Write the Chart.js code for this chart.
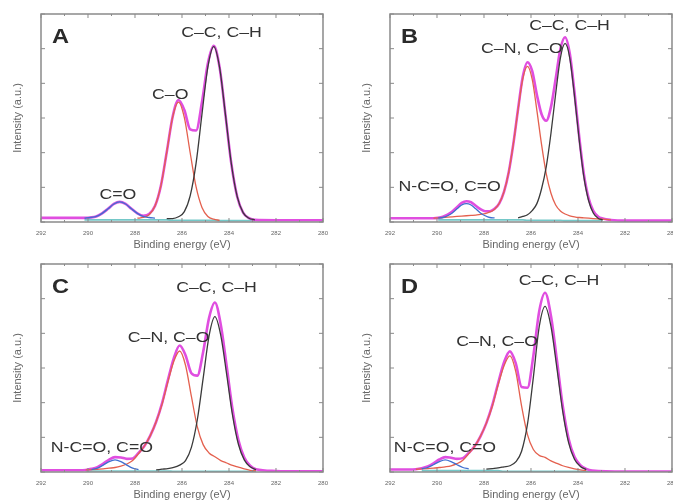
<!DOCTYPE html>
<html>
<head>
<meta charset="utf-8">
<script src="https://cdn.jsdelivr.net/npm/chart.js@4.4.0/dist/chart.umd.min.js"></script>
<style>
  body { margin: 0; width: 673px; height: 502px; overflow: hidden; background: #fff; position: relative; }
  .panel { position: absolute; width: 336px; height: 252px; }
</style>
</head>
<body>
<div class="panel" style="left:0;top:0"><canvas id="chartA" width="336" height="252"></canvas></div>
<div class="panel" style="left:349px;top:0"><canvas id="chartB" width="336" height="252"></canvas></div>
<div class="panel" style="left:0;top:250px"><canvas id="chartC" width="336" height="252"></canvas></div>
<div class="panel" style="left:349px;top:250px"><canvas id="chartD" width="336" height="252"></canvas></div>
<script>
// C 1s spectra, binding energy (eV) vs intensity (a.u.)
var energyTicks = [292, 290, 288, 286, 284, 282, 280];

// panel A
var energyA = [292, 291, 290.15, 289.9, 289.65, 289.4, 289.15, 288.9, 288.65, 288.4, 288.15, 287.9, 287.65, 287.4, 287.15, 286.9, 286.65, 286.4, 286.15, 285.9, 285.65, 285.4, 285.15, 284.9, 284.65, 284.4, 284.15, 283.9, 283.65, 283.4, 283.15, 282.9, 282, 281, 280];
var envelopeA = [.12, .12, .12, .13, .16, .25, .38, .52, .58, .52, .38, .25, .18, .23, .46, 1.04, 2.01, 3.03, 3.52, 3.23, 2.67, 2.64, 3.46, 4.57, 5.08, 4.46, 3.09, 1.68, .73, .27, .11, .06, .05, .05, .05];
var ccA = [null, null, null, null, null, null, null, null, null, null, null, null, null, null, null, null, .10, .10, .15, .30, .76, 1.70, 3.11, 4.47, 5.06, 4.46, 3.09, 1.68, .73, .27, .11, .06, null, null, null];
var coA = [null, null, null, null, null, null, null, null, null, null, null, .11, .13, .21, .46, 1.04, 2.01, 3.02, 3.46, 3.01, 1.99, 1.01, .42, .16, .08, .05, null, null, null, null, null, null, null, null, null];
var ncoA = [null, null, .11, .13, .16, .25, .38, .52, .58, .52, .38, .25, .16, .13, .11, null, null, null, null, null, null, null, null, null, null, null, null, null, null, null, null, null, null, null, null];
var backgroundA = [null, null, .06, .06, .06, .06, .06, .06, .06, .06, .06, .06, .06, .06, .06, .06, .06, .05, .05, .05, .05, .05, .05, .05, .05, .04, .04, .04, .04, .04, .04, .04, null, null, null];

// panel B
var energyB = [292, 291, 290.15, 289.95, 289.75, 289.55, 289.35, 289.15, 288.95, 288.75, 288.55, 288.35, 288.15, 287.95, 287.75, 287.55, 287.35, 287.15, 286.95, 286.75, 286.55, 286.35, 286.15, 285.95, 285.75, 285.55, 285.35, 285.15, 284.95, 284.75, 284.55, 284.35, 284.15, 283.95, 283.75, 283.55, 283.35, 283.15, 282.95, 282.6, 282, 281, 280];
var envelopeB = [.11, .11, .11, .12, .15, .21, .30, .43, .55, .60, .57, .47, .37, .31, .31, .38, .54, .87, 1.43, 2.26, 3.26, 4.19, 4.61, 4.36, 3.67, 3.11, 2.92, 3.32, 4.13, 4.99, 5.33, 4.86, 3.75, 2.47, 1.38, .69, .32, .16, .10, .06, .04, .04, .04];
var ccB = [null, null, null, null, null, null, null, null, null, null, null, null, null, null, null, null, null, null, null, null, .12, .16, .21, .33, .53, .96, 1.60, 2.56, 3.70, 4.73, 5.15, 4.73, 3.64, 2.38, 1.30, .62, .26, .11, .06, null, null, null, null];
var coB = [null, null, .11, .12, .13, .14, .15, .16, .17, .18, .19, .20, .22, .24, .29, .37, .54, .87, 1.43, 2.26, 3.24, 4.13, 4.49, 4.12, 3.22, 2.23, 1.39, .83, .49, .32, .23, .18, .15, .13, .12, .11, .10, .09, .08, .06, null, null, null];
var ncoB = [null, null, null, .12, .13, .18, .26, .38, .49, .53, .49, .38, .26, .18, .13, .12, null, null, null, null, null, null, null, null, null, null, null, null, null, null, null, null, null, null, null, null, null, null, null, null, null, null, null];
var backgroundB = [null, null, null, .06, .06, .06, .06, .06, .06, .06, .06, .06, .06, .06, .06, .06, .06, .06, .06, .06, .06, .06, .05, .05, .05, .05, .05, .05, .05, .05, .04, .04, .04, .04, .04, .04, .04, .04, .04, null, null, null, null];

// panel C
var energyC = [292, 291, 290.35, 290.1, 289.85, 289.6, 289.35, 289.1, 288.85, 288.6, 288.35, 288.1, 287.85, 287.6, 287.35, 287.1, 286.85, 286.6, 286.35, 286.1, 285.85, 285.6, 285.35, 285.1, 284.85, 284.6, 284.35, 284.1, 283.85, 283.6, 283.35, 283.1, 282.85, 282, 281, 280];
var envelopeC = [.05, .05, .05, .06, .09, .14, .24, .36, .43, .42, .38, .39, .55, .75, 1.05, 1.45, 1.98, 2.65, 3.28, 3.65, 3.37, 2.85, 2.78, 3.46, 4.44, 4.89, 4.25, 3.06, 1.81, .92, .42, .18, .08, .03, .02, .02];
var ccC = [null, null, null, null, null, null, null, null, null, null, null, null, null, null, null, .06, .08, .10, .13, .20, .33, .71, 1.50, 2.70, 3.92, 4.48, 3.94, 2.82, 1.64, .80, .35, .15, .07, null, null, null];
var coC = [null, null, null, .06, .07, .08, .09, .11, .13, .17, .23, .33, .53, .75, 1.05, 1.45, 1.95, 2.60, 3.19, 3.49, 3.08, 2.18, 1.31, .79, .55, .44, .33, .26, .19, .14, .09, .05, .03, null, null, null];
var ncoC = [null, null, null, null, .07, .11, .20, .30, .35, .30, .20, .11, .07, null, null, null, null, null, null, null, null, null, null, null, null, null, null, null, null, null, null, null, null, null, null, null];
var backgroundC = [null, null, null, .03, .03, .03, .03, .03, .03, .03, .03, .03, .03, .03, .03, .03, .03, .03, .02, .02, .02, .02, .02, .02, .02, .02, .02, .02, .02, .02, .02, .02, .02, null, null, null];

// panel D
var energyD = [292, 291.15, 290.9, 290.65, 290.4, 290.15, 289.9, 289.65, 289.4, 289.15, 288.9, 288.65, 288.4, 288.15, 287.9, 287.65, 287.4, 287.15, 286.9, 286.65, 286.4, 286.15, 285.9, 285.65, 285.4, 285.15, 284.9, 284.65, 284.4, 284.15, 283.9, 283.65, 283.4, 282, 281, 280];
var envelopeD = [.07, .07, .08, .11, .16, .25, .36, .43, .41, .38, .40, .55, .74, 1.03, 1.41, 1.92, 2.56, 3.16, 3.48, 3.14, 2.45, 2.43, 3.35, 4.64, 5.17, 4.50, 3.24, 1.91, .96, .44, .20, .09, .04, .01, .01, .01];
var ccD = [null, null, null, null, null, null, null, null, null, null, null, null, null, null, .08, .10, .12, .15, .18, .29, .60, 1.38, 2.73, 4.19, 4.78, 4.20, 3.01, 1.75, .85, .37, .16, .07, null, null, null, null];
var coD = [null, null, .08, .09, .10, .11, .13, .15, .18, .24, .34, .53, .74, 1.03, 1.41, 1.89, 2.51, 3.06, 3.35, 2.90, 1.90, 1.08, .65, .48, .42, .32, .25, .18, .13, .09, .06, .04, null, null, null, null];
var ncoD = [null, null, null, .09, .13, .21, .30, .35, .30, .21, .13, .09, null, null, null, null, null, null, null, null, null, null, null, null, null, null, null, null, null, null, null, null, null, null, null, null];
var backgroundD = [null, null, null, .04, .04, .04, .04, .04, .04, .04, .04, .04, .04, .04, .04, .04, .04, .02, .02, .02, .02, .02, .02, .02, .02, .02, .02, .02, .02, .02, .02, .02, .02, null, null, null];

Chart.defaults.font.family = '"Liberation Sans", Arial, sans-serif';

// box round the plot with inward ticks on all four sides
var frameTicks = {
  id: 'frameTicks',
  afterDraw: function(chart) {
    var ctx = chart.ctx, a = chart.chartArea, x = chart.scales.x, y = chart.scales.y;
    ctx.save();
    ctx.strokeStyle = '#8a8a8a';
    ctx.lineWidth = 1;
    ctx.beginPath();
    x.ticks.forEach(function(t) {
      var px = x.getPixelForValue(t.value);
      var len = t.value % 2 === 0 ? 4 : 2;
      ctx.moveTo(px, a.bottom); ctx.lineTo(px, a.bottom - len);
      ctx.moveTo(px, a.top); ctx.lineTo(px, a.top + len);
    });
    y.ticks.forEach(function(t) {
      var py = y.getPixelForValue(t.value);
      ctx.moveTo(a.left, py); ctx.lineTo(a.left + 4, py);
      ctx.moveTo(a.right, py); ctx.lineTo(a.right - 4, py);
    });
    ctx.stroke();
    ctx.lineWidth = 1.5;
    ctx.strokeRect(a.left, a.top, a.right - a.left, a.bottom - a.top);
    ctx.restore();
  }
};

// panel letter and peak names (the figure's text is a little wide, so stretch it)
var stretch = 1.18;
function wideText(ctx, text, px, py) {
  ctx.save();
  ctx.translate(px, py);
  ctx.scale(stretch, 1);
  ctx.fillText(text, 0, 0);
  ctx.restore();
}

var peakLabels = {
  id: 'peakLabels',
  afterDatasetsDraw: function(chart, args, opts) {
    var ctx = chart.ctx, a = chart.chartArea, x = chart.scales.x, y = chart.scales.y;
    ctx.save();
    ctx.fillStyle = '#2a2a2a';
    ctx.font = 'bold 20px "Liberation Sans", Arial, sans-serif';
    ctx.textAlign = 'left';
    ctx.textBaseline = 'alphabetic';
    wideText(ctx, opts.letter, a.left + 11, a.top + 29);
    ctx.fillStyle = '#333';
    ctx.font = '15px "Liberation Sans", Arial, sans-serif';
    ctx.textAlign = 'center';
    ctx.textBaseline = 'middle';
    opts.items.forEach(function(l) {
      wideText(ctx, l[0], x.getPixelForValue(l[1]), y.getPixelForValue(l[2]));
    });
    ctx.restore();
  }
};

function pts(energy, vals) {
  var out = [];
  energy.forEach(function(e, i) {
    if (vals[i] !== null) out.push({x: e, y: vals[i]});
  });
  return out;
}

function makeChart(id, energy, env, cc, co, nco, bg, letter, labels, padRight) {
  return new Chart(document.getElementById(id), {
    type: 'line',
    data: {
      datasets: [
        {data: pts(energy, nco), borderColor: '#3f6fd0', borderWidth: 1.3},
        {data: pts(energy, cc), borderColor: '#3a3a3a', borderWidth: 1.3},
        {data: pts(energy, co), borderColor: '#e4604e', borderWidth: 1.3},
        {data: pts(energy, env), borderColor: '#e04ee0', borderWidth: 2.6},
        {data: pts(energy, bg), borderColor: '#74c8c8', borderWidth: 1.6}
      ]
    },
    options: {
      responsive: false,
      animation: false,
      layout: {padding: {top: 14, right: padRight, left: 0, bottom: 0}},
      elements: {
        point: {radius: 0},
        line: {cubicInterpolationMode: 'monotone', fill: false}
      },
      scales: {
        x: {
          type: 'linear',
          reverse: true,
          min: 280,
          max: 292,
          afterFit: function(s) { s.height = 30; },
          grid: {display: false, drawTicks: false},
          border: {display: false},
          ticks: {
            stepSize: 1,
            autoSkip: false,
            maxRotation: 0,
            padding: 8,
            color: '#666',
            font: {size: 6},
            callback: function(v) { return energyTicks.indexOf(v) >= 0 ? String(v) : ''; }
          },
          title: {display: true, text: 'Binding energy (eV)', color: '#666', font: {size: 11}, padding: {top: 0, bottom: 0}}
        },
        y: {
          min: 0,
          max: 6,
          afterFit: function(s) { s.width = 41; },
          grid: {display: false, drawTicks: false},
          border: {display: false},
          ticks: {stepSize: 1, callback: function() { return ''; }},
          title: {display: true, text: 'Intensity (a.u.)', color: '#666', font: {size: 11}, padding: {top: 11, bottom: 0}}
        }
      },
      plugins: {
        legend: {display: false},
        tooltip: {enabled: false},
        peakLabels: {letter: letter, items: labels}
      }
    },
    plugins: [frameTicks, peakLabels]
  });
}

makeChart('chartA', energyA, envelopeA, ccA, coA, ncoA, backgroundA, 'A',
  [['C–C, C–H', 284.32, 5.45], ['C–O', 286.5, 3.68], ['C=O', 288.73, 0.78]], 9);
makeChart('chartB', energyB, envelopeB, ccB, coB, ncoB, backgroundB, 'B',
  [['C–C, C–H', 284.36, 5.65], ['C–N, C–O', 286.39, 4.99], ['N-C=O, C=O', 289.46, 1.0]], 12);
makeChart('chartC', energyC, envelopeC, ccC, coC, ncoC, backgroundC, 'C',
  [['C–C, C–H', 284.53, 5.32], ['C–N, C–O', 286.57, 3.88], ['N-C=O, C=O', 289.41, 0.71]], 9);
makeChart('chartD', energyD, envelopeD, ccD, coD, ncoD, backgroundD, 'D',
  [['C–C, C–H', 284.81, 5.51], ['C–N, C–O', 287.44, 3.76], ['N-C=O, C=O', 289.66, 0.71]], 12);
</script>
</body>
</html>
